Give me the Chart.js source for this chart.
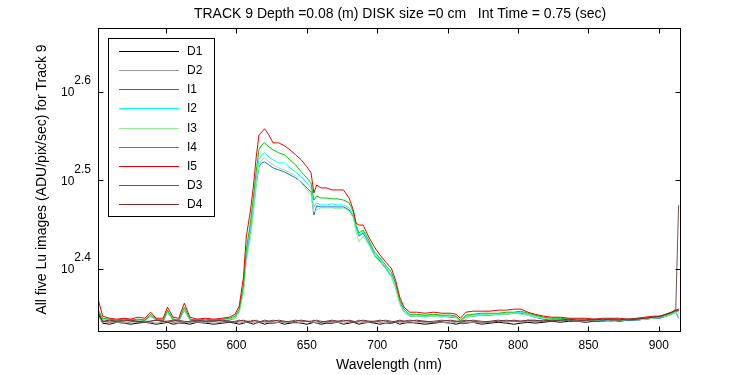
<!DOCTYPE html>
<html>
<head>
<meta charset="utf-8">
<script src="https://cdn.jsdelivr.net/npm/chart.js@4"></script>
<style>
  html, body { margin: 0; padding: 0; background: #fff; }
</style>
</head>
<body>
<canvas id="trackChart" width="750" height="375"></canvas>
<script>
// Wavelengths (nm) shared by every curve
const wavelengths = [
  502, 505, 510, 515, 520, 525, 530, 535, 539, 543,
  548, 551, 555, 559, 563, 567, 572, 578, 584, 590,
  595, 599, 602, 605, 607, 610, 612, 614, 616, 618,
  620, 623, 626, 630, 634, 638, 642, 646, 650, 653,
  655, 657, 660, 664, 668, 672, 676, 680, 683, 685,
  687, 690, 694, 698, 702, 706, 710, 713, 716, 719,
  723, 728, 734, 740, 746, 752, 756, 759, 763, 768,
  774, 780, 786, 792, 797, 802, 807, 812, 818, 824,
  830, 836, 842, 848, 854, 860, 866, 872, 878, 884,
  890, 896, 901, 905, 909, 912, 914
];

// Lu values (ADU/pix/sec)
const d1 = [
  223.4, 218.3, 217.7, 218.8, 218.3, 217.7, 218.3, 218.8, 218.3, 217.7,
  218.3, 218.8, 217.7, 218.3, 218.3, 217.7, 218.8, 218.3, 217.7, 218.3,
  218.8, 218.3, 217.7, 218.3, 218.8, 218.3, 217.7, 218.3, 218.8, 218.3,
  217.7, 218.3, 218.3, 218.8, 217.7, 218.3, 218.8, 218.3, 217.7, 218.3,
  218.8, 218.3, 217.7, 218.3, 218.3, 218.8, 217.7, 218.3, 218.8, 218.3,
  217.7, 218.3, 218.8, 218.3, 217.7, 218.3, 218.3, 218.8, 217.7, 218.3,
  218.8, 218.3, 217.7, 218.3, 218.8, 218.3, 217.7, 218.3, 218.3, 218.8,
  217.7, 218.3, 218.8, 218.3, 217.7, 218.3, 218.8, 218.3, 218.8, 219.4,
  218.8, 219.4, 219.4, 218.8, 219.4, 219.4, 220.0, 219.4, 220.0, 220.0,
  220.6, 221.1, 221.7, 222.3, 223.4, 225.2, 225.8
];
const d2 = [
  222.3, 218.8, 219.4, 218.8, 218.3, 218.8, 219.4, 218.8, 218.8, 218.3,
  218.8, 219.4, 218.8, 218.3, 218.8, 219.4, 218.8, 218.8, 218.3, 218.8,
  219.4, 218.8, 218.3, 218.8, 218.8, 219.4, 218.8, 218.3, 218.8, 219.4,
  218.8, 218.8, 218.3, 218.8, 219.4, 218.8, 218.3, 218.8, 219.4, 218.8,
  218.8, 218.3, 218.8, 219.4, 218.8, 218.8, 218.3, 218.8, 219.4, 218.8,
  218.3, 218.8, 218.8, 219.4, 218.8, 218.3, 218.8, 219.4, 218.8, 218.8,
  218.3, 218.8, 219.4, 218.8, 218.8, 218.3, 218.8, 219.4, 218.8, 218.8,
  218.3, 218.8, 219.4, 218.8, 219.4, 218.8, 219.4, 219.4, 219.4, 220.0,
  219.4, 220.0, 219.4, 219.4, 220.0, 219.4, 220.0, 220.0, 220.0, 220.6,
  220.6, 221.1, 222.3, 222.9, 224.0, 225.2, 225.8
];
const i1 = [
  224.0, 220.6, 220.0, 219.4, 220.0, 220.0, 219.4, 220.0, 222.3, 220.0,
  219.4, 224.6, 220.0, 219.4, 225.8, 220.0, 219.4, 220.0, 219.4, 220.0,
  220.0, 221.1, 225.2, 237.8, 258.5, 276.6, 292.9, 312.5, 327.6, 331.0,
  331.8, 329.3, 326.7, 325.0, 323.3, 320.8, 318.3, 315.0, 310.1, 306.9,
  289.1, 296.0, 295.2, 295.2, 295.2, 295.2, 295.2, 292.9, 287.6, 279.5,
  273.7, 275.8, 268.8, 260.5, 256.5, 251.8, 246.7, 239.6, 229.9, 224.6,
  222.3, 222.3, 222.3, 222.3, 222.3, 221.7, 221.7, 219.4, 221.7, 222.3,
  222.9, 222.9, 223.4, 223.4, 224.0, 224.0, 222.9, 221.7, 220.6, 220.0,
  220.0, 220.0, 219.4, 220.0, 219.4, 220.0, 219.4, 220.0, 220.0, 220.0,
  220.6, 221.1, 221.1, 222.3, 223.4, 224.6, 221.1
];
const i2 = [
  224.6, 220.6, 220.0, 220.0, 220.6, 220.0, 220.0, 220.6, 222.9, 220.0,
  220.0, 225.2, 220.6, 220.0, 226.4, 220.6, 220.0, 220.0, 220.0, 220.0,
  220.6, 221.7, 225.8, 239.0, 260.5, 279.5, 296.7, 316.6, 333.6, 338.0,
  339.7, 336.2, 333.6, 331.0, 331.0, 326.7, 323.3, 319.2, 314.2, 310.1,
  295.2, 298.3, 296.7, 296.7, 297.5, 296.7, 296.7, 294.4, 289.1, 279.5,
  274.4, 276.6, 269.5, 261.2, 257.1, 252.5, 247.3, 240.3, 230.5, 225.2,
  222.9, 222.9, 222.3, 222.9, 222.3, 222.3, 221.7, 219.4, 222.3, 222.9,
  223.4, 223.4, 223.4, 224.0, 224.0, 224.6, 223.4, 222.3, 221.1, 220.6,
  220.6, 220.0, 220.0, 220.0, 220.0, 220.0, 220.0, 220.0, 220.0, 220.6,
  220.6, 221.1, 221.7, 222.3, 223.4, 224.6, 221.1
];
const i3 = [
  225.2, 220.6, 220.0, 220.0, 220.0, 219.4, 220.0, 220.0, 222.9, 220.0,
  220.0, 224.6, 220.0, 220.0, 225.8, 220.0, 220.0, 219.4, 220.0, 220.0,
  220.6, 221.1, 224.6, 236.6, 255.8, 273.7, 290.6, 312.5, 329.3, 333.6,
  335.3, 331.8, 329.3, 326.7, 325.0, 322.5, 320.0, 314.2, 308.5, 304.5,
  291.3, 292.9, 294.4, 294.4, 294.4, 293.7, 294.4, 292.1, 286.8, 276.6,
  269.5, 273.7, 267.4, 259.8, 255.8, 251.2, 246.0, 239.0, 229.3, 224.6,
  222.3, 222.3, 221.7, 222.3, 221.7, 222.3, 221.7, 218.8, 221.7, 222.3,
  222.9, 223.4, 222.9, 223.4, 224.0, 223.4, 222.9, 221.7, 221.1, 220.6,
  220.0, 220.6, 220.0, 220.0, 220.0, 220.6, 220.0, 220.0, 220.6, 220.0,
  220.6, 221.1, 221.7, 222.3, 223.4, 224.6, 224.0
];
const i4 = [
  225.8, 221.1, 220.6, 220.0, 220.6, 220.0, 220.6, 220.0, 223.4, 220.6,
  220.0, 225.8, 220.6, 220.0, 227.6, 220.6, 220.0, 220.6, 220.0, 220.6,
  221.1, 222.3, 226.4, 240.9, 263.9, 283.9, 302.1, 323.3, 342.4, 346.8,
  348.6, 345.0, 342.4, 339.7, 338.0, 333.6, 329.3, 323.3, 318.3, 314.2,
  300.5, 303.7, 302.1, 302.1, 301.4, 301.4, 300.5, 298.3, 291.3, 281.6,
  275.8, 278.0, 270.9, 262.6, 258.5, 253.8, 249.2, 242.3, 231.7, 226.4,
  223.4, 223.4, 222.9, 223.4, 222.9, 222.9, 222.3, 220.0, 222.9, 223.4,
  224.0, 224.0, 224.0, 224.6, 224.6, 225.2, 224.0, 222.9, 221.7, 221.1,
  221.1, 220.6, 220.6, 220.6, 220.0, 220.6, 220.6, 220.0, 220.6, 220.6,
  221.1, 221.7, 221.7, 222.9, 224.0, 225.2, 225.2
];
const i5 = [
  231.7, 222.3, 221.1, 220.6, 221.1, 220.6, 221.7, 221.1, 224.6, 221.1,
  221.1, 227.6, 221.7, 221.1, 229.9, 221.7, 220.6, 221.1, 220.6, 221.1,
  221.7, 223.4, 228.2, 246.0, 273.0, 292.9, 310.9, 335.3, 355.9, 358.6,
  361.6, 355.9, 348.6, 348.6, 346.0, 342.4, 338.0, 333.6, 327.6, 322.5,
  306.1, 312.5, 310.1, 310.1, 308.5, 308.5, 308.5, 302.1, 292.9, 283.1,
  281.6, 281.6, 273.0, 266.0, 260.5, 255.8, 251.8, 244.1, 233.5, 227.6,
  224.6, 224.6, 224.0, 224.6, 224.0, 224.0, 223.4, 221.1, 224.6, 225.2,
  225.2, 225.2, 225.8, 225.8, 226.4, 226.4, 224.6, 223.4, 222.3, 221.7,
  221.7, 221.1, 221.1, 221.1, 220.6, 221.1, 221.1, 221.1, 220.6, 221.1,
  221.7, 222.3, 222.3, 223.4, 224.6, 225.8, 225.8
];
const d3 = [
  224.6, 219.4, 218.8, 219.4, 220.0, 219.4, 218.8, 219.4, 219.4, 220.0,
  219.4, 218.8, 219.4, 220.0, 219.4, 218.8, 219.4, 219.4, 220.0, 219.4,
  218.8, 219.4, 220.0, 219.4, 219.4, 218.8, 219.4, 220.0, 219.4, 218.8,
  219.4, 219.4, 220.0, 219.4, 218.8, 219.4, 220.0, 219.4, 219.4, 218.8,
  219.4, 220.0, 219.4, 218.8, 219.4, 219.4, 220.0, 219.4, 218.8, 219.4,
  220.0, 219.4, 219.4, 218.8, 219.4, 220.0, 219.4, 218.8, 219.4, 219.4,
  220.0, 219.4, 218.8, 219.4, 220.0, 219.4, 219.4, 218.8, 219.4, 220.0,
  219.4, 218.8, 219.4, 220.0, 219.4, 219.4, 220.0, 219.4, 220.0, 219.4,
  220.0, 220.0, 219.4, 220.0, 220.0, 220.6, 220.0, 220.0, 220.6, 220.6,
  221.1, 221.7, 222.3, 223.4, 224.6, 226.4, 296.7
];
const d4 = [
  223.4, 219.4, 220.0, 219.4, 219.4, 220.0, 219.4, 218.8, 219.4, 220.0,
  219.4, 219.4, 220.0, 219.4, 218.8, 219.4, 220.0, 219.4, 219.4, 220.0,
  219.4, 218.8, 219.4, 220.0, 219.4, 219.4, 220.0, 219.4, 218.8, 219.4,
  220.0, 219.4, 219.4, 220.0, 219.4, 218.8, 219.4, 220.0, 219.4, 219.4,
  220.0, 219.4, 218.8, 219.4, 220.0, 219.4, 219.4, 220.0, 219.4, 218.8,
  219.4, 220.0, 219.4, 219.4, 220.0, 219.4, 218.8, 219.4, 220.0, 219.4,
  219.4, 220.0, 219.4, 218.8, 219.4, 220.0, 219.4, 219.4, 220.0, 219.4,
  218.8, 219.4, 220.0, 219.4, 220.0, 219.4, 220.0, 220.0, 219.4, 220.0,
  220.0, 220.6, 220.0, 220.0, 220.6, 220.0, 220.6, 220.6, 220.0, 220.6,
  221.1, 221.7, 222.3, 223.4, 224.6, 225.8, 226.4
];

const seriesNames = ['D1', 'D2', 'I1', 'I2', 'I3', 'I4', 'I5', 'D3', 'D4'];
const seriesValues = [d1, d2, i1, i2, i3, i4, i5, d3, d4];
const seriesColors = ['#000000', '#999999', '#1e6ed8', '#00ffff', '#90ee90', '#00c800', '#ee0000', '#7a5050', '#7a2e2e'];

const xTicks = [550, 600, 650, 700, 750, 800, 850, 900];
const yTickExponents = [2.4, 2.5, 2.6];
const chartTitle = 'TRACK 9 Depth =0.08 (m) DISK size =0 cm   Int Time = 0.75 (sec)';

const FONT = 'Liberation Sans, Arial, Helvetica, sans-serif';

// MATLAB-like box, inward ticks, 10^x labels, title and legend
const matlabFrame = {
    id: 'matlabFrame',
    afterDraw(chart) {
        const ctx = chart.ctx;
        const a = chart.chartArea;
        const xs = chart.scales.x, ys = chart.scales.y;
        ctx.save();
        ctx.strokeStyle = '#000';
        ctx.lineWidth = 1;
        const L = Math.round(a.left) + 0.5, R = Math.round(a.right) + 0.5;
        const T = Math.round(a.top) + 0.5, B = Math.round(a.bottom) + 0.5;
        ctx.strokeRect(L, T, R - L, B - T);

        ctx.beginPath();
        xTicks.forEach(v => {
            const px = Math.round(xs.getPixelForValue(v)) + 0.5;
            ctx.moveTo(px, B); ctx.lineTo(px, B - 5);
            ctx.moveTo(px, T); ctx.lineTo(px, T + 5);
        });
        yTickExponents.forEach(e => {
            const py = Math.round(ys.getPixelForValue(Math.pow(10, e))) + 0.5;
            ctx.moveTo(L, py); ctx.lineTo(L + 5, py);
            ctx.moveTo(R, py); ctx.lineTo(R - 5, py);
        });
        ctx.stroke();

        // y tick labels as 10 with a raised exponent
        ctx.fillStyle = '#000';
        ctx.font = '12px ' + FONT;
        ctx.textBaseline = 'middle';
        yTickExponents.forEach(e => {
            const py = ys.getPixelForValue(Math.pow(10, e));
            const expText = e.toFixed(1);
            ctx.textAlign = 'right';
            ctx.fillText(expText, a.left - 7, py - 11);
            const w = ctx.measureText(expText).width;
            ctx.fillText('10', a.left - 7 - w, py + 1);
        });

        // title
        ctx.font = '14px ' + FONT;
        ctx.textAlign = 'center';
        ctx.fillText(chartTitle, 400, 14);

        // legend box
        ctx.font = '12px ' + FONT;
        const bx = a.left + 10, by = a.top + 10, bw = 106, bh = 178;
        ctx.fillStyle = '#fff';
        ctx.fillRect(bx, by, bw, bh);
        ctx.strokeRect(Math.round(bx) + 0.5, Math.round(by) + 0.5, bw, bh);
        ctx.textAlign = 'left';
        chart.data.datasets.forEach((ds, k) => {
            const ry = Math.round(by + 12.7 + k * 19.2) + 0.5;
            ctx.strokeStyle = ds.borderColor;
            ctx.beginPath();
            ctx.moveTo(bx + 11, ry); ctx.lineTo(bx + 71, ry);
            ctx.stroke();
            ctx.fillStyle = '#000';
            ctx.fillText(ds.label, bx + 79, ry + 0.5);
        });
        ctx.restore();
    }
};

const ctxTrack = document.getElementById('trackChart').getContext('2d');
const trackChart = new Chart(ctxTrack, {
    type: 'line',
    data: {
        datasets: seriesNames.map((name, k) => ({
            label: name,
            data: wavelengths.map((w, i) => ({ x: w, y: seriesValues[k][i] })),
            borderColor: seriesColors[k],
            borderWidth: 1,
            pointRadius: 0,
            tension: 0,
            fill: false,
            order: seriesNames.length - k  // later series drawn on top
        }))
    },
    options: {
        responsive: false,
        animation: false,
        layout: { padding: { left: 0, right: 70, top: 28, bottom: 0 } },
        plugins: {
            legend: { display: false },
            tooltip: { enabled: false },
            title: { display: false }
        },
        scales: {
            x: {
                type: 'linear',
                min: 501.7,
                max: 915,
                grid: { display: false, drawTicks: false },
                border: { display: false },
                afterBuildTicks: s => { s.ticks = xTicks.map(v => ({ value: v })); },
                afterFit: s => { s.height = 44; },
                ticks: { color: '#000', font: { family: FONT, size: 12 }, padding: 7, maxRotation: 0, autoSkip: false },
                title: {
                    display: true,
                    text: 'Wavelength (nm)',
                    color: '#000',
                    font: { family: FONT, size: 14 },
                    padding: { top: 0, bottom: 1 }
                }
            },
            y: {
                type: 'logarithmic',
                min: 213.9,
                max: 469.7,
                grid: { display: false, drawTicks: false },
                border: { display: false },
                ticks: { display: false },
                afterFit: s => { s.width = 98; },
                title: {
                    display: true,
                    text: 'All five Lu images (ADU/pix/sec) for Track 9',
                    color: '#000',
                    font: { family: FONT, size: 14 },
                    padding: { top: 34, bottom: 0 }
                }
            }
        }
    },
    plugins: [matlabFrame]
});
</script>
</body>
</html>
